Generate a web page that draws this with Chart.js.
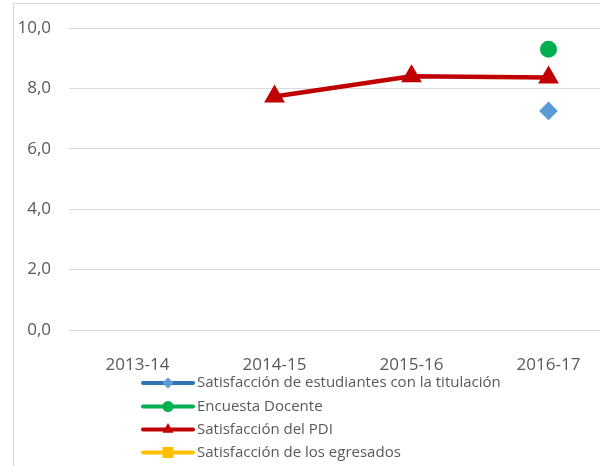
<!DOCTYPE html>
<html>
<head>
<meta charset="utf-8">
<script src="https://cdn.jsdelivr.net/npm/chart.js@4/dist/chart.umd.min.js"></script>
<style>
  html, body { margin: 0; padding: 0; background: #fff; width: 600px; height: 466px; overflow: hidden; position: relative; }
  #frame { position: absolute; left: 13px; top: 3px; width: 700px; height: 600px; border: 1px solid #D9D9D9; box-sizing: border-box; }
  #c { position: absolute; left: 0; top: 0; }
</style>
</head>
<body>
<div id="frame"></div>
<canvas id="c" width="640" height="466"></canvas>
<script>
const categories = ['2013-14', '2014-15', '2015-16', '2016-17'];
const yTickLabels = ['0,0', '2,0', '4,0', '6,0', '8,0', '10,0'];
const seriesNames = [
  'Satisfacción de estudiantes con la titulación',
  'Encuesta Docente',
  'Satisfacción del PDI',
  'Satisfacción de los egresados'
];
const estudiantes = [null, null, null, 7.26];
const docente = [null, null, null, 9.30];
const pdi = [null, 7.74, 8.41, 8.37];
const egresados = [null, null, null, null];

const FONT = "'Open Sans', 'Liberation Sans', sans-serif";
const TEXT = '#595959';

const legendLines = ['#2E75B6', '#00B050', '#C00000', '#FFC000'];

const legendPlugin = {
  id: 'customLegend',
  afterDraw(chart) {
    const ctx = chart.ctx;
    const rows = [383, 406.5, 429.5, 452.5];
    const x0 = 143, x1 = 193, xm = 168;
    ctx.save();
    chart.data.datasets.forEach((ds, i) => {
      const y = rows[i];
      ctx.strokeStyle = legendLines[i];
      ctx.lineWidth = 4;
      ctx.lineCap = 'round';
      ctx.beginPath();
      ctx.moveTo(x0, y);
      ctx.lineTo(x1, y);
      ctx.stroke();
      ctx.fillStyle = ds.pointBackgroundColor;
      ctx.beginPath();
      const r = 5.5;
      if (ds.pointStyle === 'rectRot') {
        ctx.moveTo(xm - r, y); ctx.lineTo(xm, y - r); ctx.lineTo(xm + r, y); ctx.lineTo(xm, y + r);
      } else if (ds.pointStyle === 'circle') {
        ctx.arc(xm, y, r, 0, Math.PI * 2);
      } else if (ds.pointStyle === 'triangle') {
        ctx.moveTo(xm, y - r - 1); ctx.lineTo(xm + r, y + r * 0.6); ctx.lineTo(xm - r, y + r * 0.6);
      } else {
        ctx.rect(xm - r, y - r, 2 * r, 2 * r);
      }
      ctx.closePath();
      ctx.fill();
      ctx.fillStyle = TEXT;
      ctx.font = '15px ' + FONT;
      ctx.textBaseline = 'middle';
      ctx.textAlign = 'left';
      ctx.fillText(ds.label, 197, y);
    });
    ctx.restore();
  }
};

new Chart(document.getElementById('c'), {
  type: 'line',
  data: {
    labels: categories,
    datasets: [
      { label: seriesNames[0], data: estudiantes, borderColor: '#5B9BD5', backgroundColor: '#5B9BD5',
        pointBackgroundColor: '#5B9BD5', pointBorderColor: '#5B9BD5', pointStyle: 'rectRot', pointRadius: 6.5, borderWidth: 4 },
      { label: seriesNames[1], data: docente, borderColor: '#00B050', backgroundColor: '#00B050',
        pointBackgroundColor: '#00B050', pointBorderColor: '#00B050', pointStyle: 'circle', pointRadius: 6.5, borderWidth: 4 },
      { label: seriesNames[2], data: pdi, borderColor: '#C00000', backgroundColor: '#C00000',
        pointBackgroundColor: '#C00000', pointBorderColor: '#C00000', pointStyle: 'triangle', pointRadius: 7.5, borderWidth: 4.5 },
      { label: seriesNames[3], data: egresados, borderColor: '#FFC000', backgroundColor: '#FFC000',
        pointBackgroundColor: '#FFC000', pointBorderColor: '#FFC000', pointStyle: 'rect', pointRadius: 6.5, borderWidth: 4 }
    ]
  },
  options: {
    responsive: false,
    animation: false,
    devicePixelRatio: 1,
    layout: { padding: { left: 0, right: 23, top: 27, bottom: 0 } },
    plugins: { legend: { display: false }, tooltip: { enabled: false } },
    elements: { line: { tension: 0 }, point: { borderWidth: 0.5 } },
    scales: {
      x: {
        offset: true,
        grid: { display: false, offset: true },
        border: { display: false },
        ticks: { color: TEXT, font: { family: FONT, size: 17 }, padding: 17, maxRotation: 0 },
        afterFit(scale) { scale.height = 136; }
      },
      y: {
        min: 0, max: 10,
        grid: { color: '#D9D9D9', lineWidth: 1, drawTicks: false },
        border: { display: false },
        ticks: {
          stepSize: 2, color: TEXT, font: { family: FONT, size: 17 }, padding: 18,
          callback: (v, i) => yTickLabels[i]
        },
        afterFit(scale) { scale.width = 69; }
      }
    }
  },
  plugins: [legendPlugin]
});
</script>
</body>
</html>
